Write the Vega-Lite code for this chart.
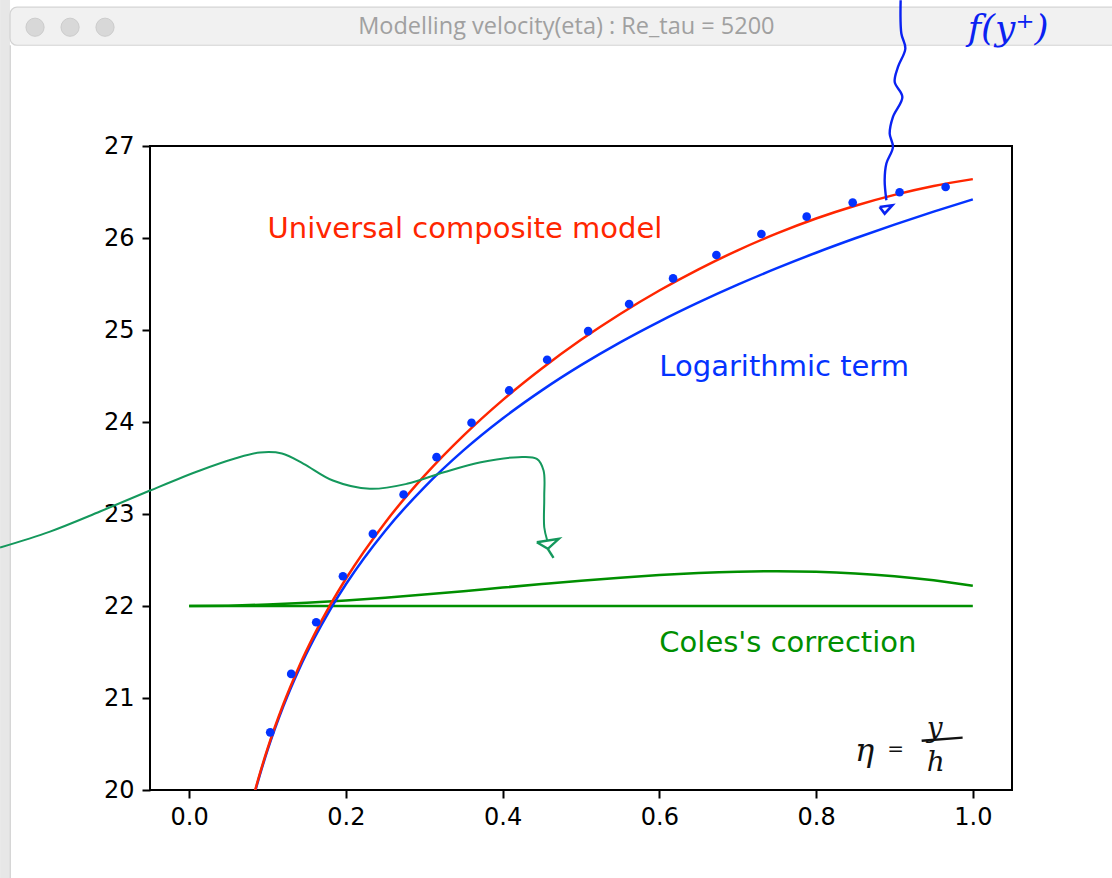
{
  "$schema": "https://vega.github.io/schema/vega-lite/v6.json",
  "width": 862,
  "height": 644,
  "autosize": "none",
  "padding": {"left": 150, "top": 146, "right": 100, "bottom": 88},
  "background": "white",
  "config": {
    "view": {"stroke": "black", "strokeWidth": 2},
    "axis": {
      "domain": false,
      "grid": false,
      "labelFont": "DejaVu Sans",
      "labelFontSize": 24,
      "labelColor": "black",
      "tickColor": "black",
      "tickWidth": 2,
      "tickSize": 8
    }
  },
  "datasets": {
    "pts": [
      {"eta": 0.1034, "u": 20.627}, {"eta": 0.1302, "u": 21.262}, {"eta": 0.1621, "u": 21.823},
      {"eta": 0.1962, "u": 22.323}, {"eta": 0.2344, "u": 22.784}, {"eta": 0.2736, "u": 23.212},
      {"eta": 0.3157, "u": 23.618}, {"eta": 0.3603, "u": 23.992}, {"eta": 0.4083, "u": 24.343},
      {"eta": 0.4568, "u": 24.677}, {"eta": 0.5091, "u": 24.988}, {"eta": 0.5614, "u": 25.282},
      {"eta": 0.6175, "u": 25.561}, {"eta": 0.6728, "u": 25.815}, {"eta": 0.7302, "u": 26.043},
      {"eta": 0.788, "u": 26.232}, {"eta": 0.8467, "u": 26.385}, {"eta": 0.9066, "u": 26.497},
      {"eta": 0.9653, "u": 26.554}
    ],
    "logterm": [
      {"eta": 0.07, "u": 19.506}, {"eta": 0.08, "u": 19.853}, {"eta": 0.09, "u": 20.159},
      {"eta": 0.1, "u": 20.433}, {"eta": 0.12, "u": 20.907}, {"eta": 0.14, "u": 21.308},
      {"eta": 0.16, "u": 21.655}, {"eta": 0.18, "u": 21.962}, {"eta": 0.2, "u": 22.236},
      {"eta": 0.25, "u": 22.816}, {"eta": 0.3, "u": 23.29}, {"eta": 0.35, "u": 23.691},
      {"eta": 0.4, "u": 24.038}, {"eta": 0.45, "u": 24.344}, {"eta": 0.5, "u": 24.618},
      {"eta": 0.55, "u": 24.866}, {"eta": 0.6, "u": 25.092}, {"eta": 0.65, "u": 25.3},
      {"eta": 0.7, "u": 25.493}, {"eta": 0.75, "u": 25.672}, {"eta": 0.8, "u": 25.84},
      {"eta": 0.85, "u": 25.997}, {"eta": 0.9, "u": 26.146}, {"eta": 0.95, "u": 26.287},
      {"eta": 1.0, "u": 26.42}
    ],
    "composite": [
      {"eta": 0.07, "u": 19.514}, {"eta": 0.08, "u": 19.863}, {"eta": 0.09, "u": 20.172},
      {"eta": 0.1, "u": 20.449}, {"eta": 0.12, "u": 20.929}, {"eta": 0.14, "u": 21.338},
      {"eta": 0.16, "u": 21.694}, {"eta": 0.18, "u": 22.011}, {"eta": 0.2, "u": 22.296},
      {"eta": 0.25, "u": 22.906}, {"eta": 0.3, "u": 23.414}, {"eta": 0.35, "u": 23.852},
      {"eta": 0.4, "u": 24.238}, {"eta": 0.45, "u": 24.582}, {"eta": 0.5, "u": 24.893},
      {"eta": 0.55, "u": 25.174}, {"eta": 0.6, "u": 25.429}, {"eta": 0.65, "u": 25.659},
      {"eta": 0.7, "u": 25.866}, {"eta": 0.75, "u": 26.05}, {"eta": 0.8, "u": 26.212},
      {"eta": 0.85, "u": 26.351}, {"eta": 0.9, "u": 26.469}, {"eta": 0.95, "u": 26.566},
      {"eta": 1.0, "u": 26.64}
    ],
    "wake": [
      {"eta": 0.0, "u": 22.0}, {"eta": 0.05, "u": 22.004}, {"eta": 0.1, "u": 22.016},
      {"eta": 0.15, "u": 22.035}, {"eta": 0.2, "u": 22.06}, {"eta": 0.25, "u": 22.09},
      {"eta": 0.3, "u": 22.124}, {"eta": 0.35, "u": 22.161}, {"eta": 0.4, "u": 22.2},
      {"eta": 0.45, "u": 22.238}, {"eta": 0.5, "u": 22.275}, {"eta": 0.55, "u": 22.308},
      {"eta": 0.6, "u": 22.337}, {"eta": 0.65, "u": 22.359}, {"eta": 0.7, "u": 22.373},
      {"eta": 0.75, "u": 22.378}, {"eta": 0.8, "u": 22.372}, {"eta": 0.85, "u": 22.354},
      {"eta": 0.9, "u": 22.323}, {"eta": 0.95, "u": 22.279}, {"eta": 1.0, "u": 22.22}
    ],
    "flat": [{"eta": 0.0, "u": 22.0}, {"eta": 1.0, "u": 22.0}],
    "greenSquiggle": [
      {"i": 0, "eta": -0.2413, "u": 22.636}, {"i": 1, "eta": -0.1776, "u": 22.809},
      {"i": 2, "eta": -0.1138, "u": 23.027}, {"i": 3, "eta": -0.05, "u": 23.255},
      {"i": 4, "eta": 0.0138, "u": 23.473}, {"i": 5, "eta": 0.0584, "u": 23.603},
      {"i": 6, "eta": 0.0903, "u": 23.669}, {"i": 7, "eta": 0.1184, "u": 23.658},
      {"i": 8, "eta": 0.146, "u": 23.546}, {"i": 9, "eta": 0.1834, "u": 23.364},
      {"i": 10, "eta": 0.2306, "u": 23.274}, {"i": 11, "eta": 0.2778, "u": 23.328},
      {"i": 12, "eta": 0.325, "u": 23.454}, {"i": 13, "eta": 0.3722, "u": 23.563},
      {"i": 14, "eta": 0.42, "u": 23.618}, {"i": 15, "eta": 0.4436, "u": 23.6},
      {"i": 16, "eta": 0.4522, "u": 23.473}, {"i": 17, "eta": 0.4531, "u": 23.183},
      {"i": 18, "eta": 0.4531, "u": 22.856}, {"i": 19, "eta": 0.4569, "u": 22.712}
    ],
    "greenHead": [
      {"g": "a", "i": 0, "eta": 0.4436, "u": 22.693}, {"g": "a", "i": 1, "eta": 0.4717, "u": 22.73},
      {"g": "a", "i": 2, "eta": 0.4577, "u": 22.621}, {"g": "a", "i": 3, "eta": 0.4436, "u": 22.693},
      {"g": "b", "i": 0, "eta": 0.4577, "u": 22.621}, {"g": "b", "i": 1, "eta": 0.4649, "u": 22.523}
    ],
    "blueSquiggle": [
      {"i": 0, "eta": 0.9079, "u": 28.585}, {"i": 1, "eta": 0.9088, "u": 28.223},
      {"i": 2, "eta": 0.9139, "u": 28.06}, {"i": 3, "eta": 0.9045, "u": 27.859},
      {"i": 4, "eta": 0.9003, "u": 27.696}, {"i": 5, "eta": 0.9101, "u": 27.533},
      {"i": 6, "eta": 0.8981, "u": 27.316}, {"i": 7, "eta": 0.8939, "u": 27.135},
      {"i": 8, "eta": 0.8981, "u": 26.989}, {"i": 9, "eta": 0.8897, "u": 26.809},
      {"i": 10, "eta": 0.8875, "u": 26.627}, {"i": 11, "eta": 0.8897, "u": 26.41}
    ],
    "blueHead": [
      {"i": 0, "eta": 0.8811, "u": 26.337}, {"i": 1, "eta": 0.8973, "u": 26.356},
      {"i": 2, "eta": 0.8875, "u": 26.265}, {"i": 3, "eta": 0.8811, "u": 26.337}
    ],
    "fracBar": [
      {"i": 0, "eta": 0.9347, "u": 20.536}, {"i": 1, "eta": 0.987, "u": 20.569}
    ],
    "titleBar": [{"x0": -0.2286, "x1": 1.2, "y0": 28.509, "y1": 28.095}],
    "leftStrip": [{"x0": -0.2413, "x1": -0.2286, "y0": 28.6, "y1": 19.0}],
    "leftBorder": [{"x0": -0.2283, "y0": 28.095, "y1": 19.0}],
    "buttons": [
      {"eta": -0.1967, "u": 28.291}, {"eta": -0.152, "u": 28.291}, {"eta": -0.1074, "u": 28.291}
    ],
    "windowTitle": [{"eta": 0.4813, "u": 28.291, "text": "Modelling velocity(eta) : Re_tau = 5200"}],
    "labelRed": [{"eta": 0.1, "u": 26.0, "text": "Universal composite model"}],
    "labelBlue": [{"eta": 0.6, "u": 24.5, "text": "Logarithmic term"}],
    "labelGreen": [{"eta": 0.6, "u": 21.5, "text": "Coles's correction"}],
    "handBlue": [{"eta": 1.045, "u": 28.27, "text": "f(y⁺)"}],
    "handEta": [{"eta": 0.862, "u": 20.427, "text": "η"}],
    "handEq": [{"eta": 0.9015, "u": 20.44, "text": "="}],
    "handFrac": [{"eta": 0.9513, "u": 20.667, "text": "y"}, {"eta": 0.9526, "u": 20.297, "text": "h"}]
  },
  "layer": [
    {
      "data": {"name": "leftStrip"},
      "mark": {"type": "rect", "fill": "#e7e7e7", "clip": false},
      "encoding": {
        "x": {"field": "x0", "type": "quantitative", "title": null},
        "x2": {"field": "x1"},
        "y": {"field": "y0", "type": "quantitative", "title": null},
        "y2": {"field": "y1"}
      }
    },
    {
      "data": {"name": "titleBar"},
      "mark": {"type": "rect", "fill": "#f1f1f1", "stroke": "#d3d3d3", "strokeWidth": 1.2, "cornerRadius": 7, "clip": false},
      "encoding": {
        "x": {"field": "x0", "type": "quantitative", "title": null},
        "x2": {"field": "x1"},
        "y": {"field": "y0", "type": "quantitative", "title": null},
        "y2": {"field": "y1"}
      }
    },
    {
      "data": {"name": "leftBorder"},
      "mark": {"type": "rule", "color": "#d0d0d0", "strokeWidth": 1.2, "clip": false},
      "encoding": {
        "x": {"field": "x0", "type": "quantitative", "title": null},
        "y": {"field": "y0", "type": "quantitative", "title": null},
        "y2": {"field": "y1"}
      }
    },
    {
      "data": {"name": "buttons"},
      "mark": {"type": "point", "filled": true, "size": 330, "color": "#d8d8d8", "stroke": "#cccccc", "strokeWidth": 1, "opacity": 1, "clip": false},
      "encoding": {
        "x": {"field": "eta", "type": "quantitative", "title": null},
        "y": {"field": "u", "type": "quantitative", "title": null}
      }
    },
    {
      "data": {"name": "windowTitle"},
      "mark": {"type": "text", "font": "Open Sans", "fontSize": 23.5, "color": "#a0a0a0", "align": "center", "baseline": "middle", "clip": false},
      "encoding": {
        "x": {"field": "eta", "type": "quantitative", "title": null},
        "y": {"field": "u", "type": "quantitative", "title": null},
        "text": {"field": "text"}
      }
    },
    {
      "data": {"name": "flat"},
      "mark": {"type": "line", "color": "#008f00", "strokeWidth": 2.5, "clip": true},
      "encoding": {
        "x": {"field": "eta", "type": "quantitative", "title": null},
        "y": {"field": "u", "type": "quantitative", "title": null}
      }
    },
    {
      "data": {"name": "wake"},
      "mark": {"type": "line", "color": "#008f00", "strokeWidth": 2.5, "interpolate": "monotone", "clip": true},
      "encoding": {
        "x": {"field": "eta", "type": "quantitative", "title": null},
        "y": {"field": "u", "type": "quantitative", "title": null}
      }
    },
    {
      "data": {"name": "logterm"},
      "mark": {"type": "line", "color": "#0433ff", "strokeWidth": 2.5, "interpolate": "monotone", "clip": true},
      "encoding": {
        "x": {"field": "eta", "type": "quantitative", "title": null},
        "y": {"field": "u", "type": "quantitative", "title": null}
      }
    },
    {
      "data": {"name": "composite"},
      "mark": {"type": "line", "color": "#ff2600", "strokeWidth": 2.5, "interpolate": "monotone", "clip": true},
      "encoding": {
        "x": {"field": "eta", "type": "quantitative", "title": null},
        "y": {"field": "u", "type": "quantitative", "title": null}
      }
    },
    {
      "data": {"name": "pts"},
      "mark": {"type": "circle", "color": "#0433ff", "size": 75, "opacity": 1},
      "encoding": {
        "x": {
          "field": "eta", "type": "quantitative", "title": null,
          "scale": {"domain": [-0.05, 1.05], "nice": false, "zero": false},
          "axis": {"values": [0, 0.2, 0.4, 0.6, 0.8, 1.0], "format": ".1f", "labelPadding": 7}
        },
        "y": {
          "field": "u", "type": "quantitative", "title": null,
          "scale": {"domain": [20, 27], "nice": false, "zero": false},
          "axis": {"values": [20, 21, 22, 23, 24, 25, 26, 27], "format": "d", "labelPadding": 8}
        }
      }
    },
    {
      "data": {"name": "labelRed"},
      "mark": {"type": "text", "font": "DejaVu Sans", "fontSize": 29, "color": "#ff2600", "align": "left", "baseline": "alphabetic"},
      "encoding": {
        "x": {"field": "eta", "type": "quantitative", "title": null},
        "y": {"field": "u", "type": "quantitative", "title": null},
        "text": {"field": "text"}
      }
    },
    {
      "data": {"name": "labelBlue"},
      "mark": {"type": "text", "font": "DejaVu Sans", "fontSize": 29, "color": "#0433ff", "align": "left", "baseline": "alphabetic"},
      "encoding": {
        "x": {"field": "eta", "type": "quantitative", "title": null},
        "y": {"field": "u", "type": "quantitative", "title": null},
        "text": {"field": "text"}
      }
    },
    {
      "data": {"name": "labelGreen"},
      "mark": {"type": "text", "font": "DejaVu Sans", "fontSize": 29, "color": "#008f00", "align": "left", "baseline": "alphabetic"},
      "encoding": {
        "x": {"field": "eta", "type": "quantitative", "title": null},
        "y": {"field": "u", "type": "quantitative", "title": null},
        "text": {"field": "text"}
      }
    },
    {
      "data": {"name": "greenSquiggle"},
      "mark": {"type": "line", "color": "#14985c", "strokeWidth": 2, "interpolate": "catmull-rom", "clip": false},
      "encoding": {
        "x": {"field": "eta", "type": "quantitative", "title": null},
        "y": {"field": "u", "type": "quantitative", "title": null},
        "order": {"field": "i"}
      }
    },
    {
      "data": {"name": "greenHead"},
      "mark": {"type": "line", "color": "#14985c", "strokeWidth": 2.4, "clip": false},
      "encoding": {
        "x": {"field": "eta", "type": "quantitative", "title": null},
        "y": {"field": "u", "type": "quantitative", "title": null},
        "detail": {"field": "g"},
        "order": {"field": "i"}
      }
    },
    {
      "data": {"name": "blueSquiggle"},
      "mark": {"type": "line", "color": "#0a22f2", "strokeWidth": 2.4, "interpolate": "catmull-rom", "clip": false},
      "encoding": {
        "x": {"field": "eta", "type": "quantitative", "title": null},
        "y": {"field": "u", "type": "quantitative", "title": null},
        "order": {"field": "i"}
      }
    },
    {
      "data": {"name": "blueHead"},
      "mark": {"type": "line", "color": "#0a22f2", "strokeWidth": 2.6, "clip": false},
      "encoding": {
        "x": {"field": "eta", "type": "quantitative", "title": null},
        "y": {"field": "u", "type": "quantitative", "title": null},
        "order": {"field": "i"}
      }
    },
    {
      "data": {"name": "handBlue"},
      "mark": {"type": "text", "font": "DejaVu Serif", "fontStyle": "italic", "fontSize": 36, "color": "#0a22f2", "align": "center", "baseline": "middle", "clip": false},
      "encoding": {
        "x": {"field": "eta", "type": "quantitative", "title": null},
        "y": {"field": "u", "type": "quantitative", "title": null},
        "text": {"field": "text"}
      }
    },
    {
      "data": {"name": "handEta"},
      "mark": {"type": "text", "font": "DejaVu Serif", "fontStyle": "italic", "fontSize": 32, "color": "#111111", "align": "center", "baseline": "middle"},
      "encoding": {
        "x": {"field": "eta", "type": "quantitative", "title": null},
        "y": {"field": "u", "type": "quantitative", "title": null},
        "text": {"field": "text"}
      }
    },
    {
      "data": {"name": "handEq"},
      "mark": {"type": "text", "font": "DejaVu Serif", "fontSize": 20, "color": "#111111", "align": "center", "baseline": "middle"},
      "encoding": {
        "x": {"field": "eta", "type": "quantitative", "title": null},
        "y": {"field": "u", "type": "quantitative", "title": null},
        "text": {"field": "text"}
      }
    },
    {
      "data": {"name": "handFrac"},
      "mark": {"type": "text", "font": "DejaVu Serif", "fontStyle": "italic", "fontSize": 28, "color": "#111111", "align": "center", "baseline": "middle"},
      "encoding": {
        "x": {"field": "eta", "type": "quantitative", "title": null},
        "y": {"field": "u", "type": "quantitative", "title": null},
        "text": {"field": "text"}
      }
    },
    {
      "data": {"name": "fracBar"},
      "mark": {"type": "line", "color": "#111111", "strokeWidth": 2.4},
      "encoding": {
        "x": {"field": "eta", "type": "quantitative", "title": null},
        "y": {"field": "u", "type": "quantitative", "title": null},
        "order": {"field": "i"}
      }
    }
  ]
}
